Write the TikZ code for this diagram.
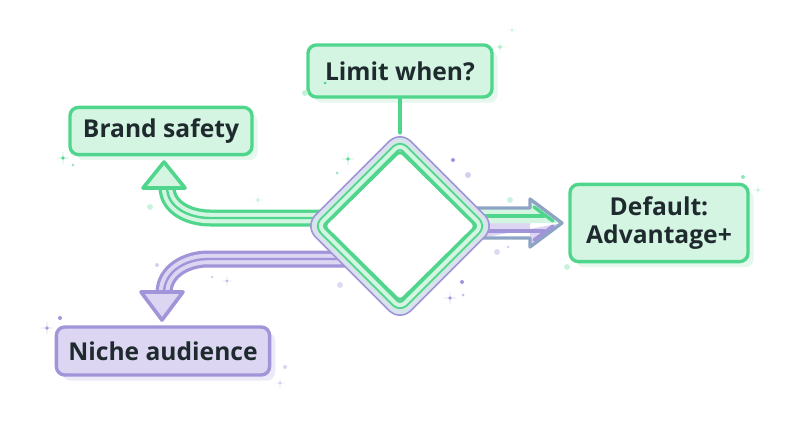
\documentclass[tikz,border=0pt]{standalone}
\usepackage{fontspec}
\setsansfont{Open Sans}
\usetikzlibrary{positioning, calc, shadows}

\definecolor{grnline}{HTML}{4FD68C}
\definecolor{grnfill}{HTML}{D3F5E2}
\definecolor{grnshade}{HTML}{E6F8EE}
\definecolor{purline}{HTML}{A194D8}
\definecolor{purfill}{HTML}{DCD6F3}
\definecolor{purshade}{HTML}{ECE9F8}
\definecolor{inkdark}{HTML}{1F2A2E}

\tikzset{
  labelbox/.style={rounded corners=6pt, line width=2.4pt, align=center,
    font=\sffamily\bfseries\fontsize{17.5}{20}\selectfont, text=inkdark, inner sep=0pt},
  greenbox/.style={labelbox, draw=grnline, fill=grnfill,
    drop shadow={fill=grnshade, opacity=1, shadow xshift=4pt, shadow yshift=-4pt}},
  purplebox/.style={labelbox, draw=purline, fill=purfill,
    drop shadow={fill=purshade, opacity=1, shadow xshift=4pt, shadow yshift=-4pt}},
}

\begin{document}
\begin{tikzpicture}[x=0.025cm, y=-0.025cm, line join=round, line cap=round]
  \useasboundingbox (0,0) rectangle (800,420);

  % boxes
  \node[greenbox, minimum width=4.6cm, minimum height=1.3cm] (limit) at (400,71) {Limit when?};
  \node[greenbox, minimum width=4.55cm, minimum height=1.18cm] (brand) at (161,131) {Brand safety};
  \node[greenbox, minimum width=4.45cm, minimum height=1.93cm] (default) at (659,223) {Default:\\Advantage+};
  \node[purplebox, minimum width=5.33cm, minimum height=1.2cm] (niche) at (163,351) {Niche audience};

  % diamond corners and arrow ends
  \coordinate (dC) at (400,226);
  \coordinate (dT) at (400,133);
  \coordinate (gstart) at (330,218);
  \coordinate (gtip) at (164,162);
  \coordinate (pstart) at (345,259);
  \coordinate (ptip) at (162,320);
  \coordinate (rtip) at (562,223);

  % question line
  \draw[grnline, line width=2.2pt] (limit.south) -- (dT);

  % green way out, up to brand safety
  \foreach \w/\c in {17/grnline, 10.5/grnfill, 2.4/grnline}
    \draw[\c, line width=\w*0.711pt, line cap=butt] (gstart) -- (210,218) to[out=180, in=-90] ($(gtip)+(3,25)$);
  \filldraw[fill=grnfill, draw=grnline, line width=2.6pt] (gtip) -- ++(21,26) -- ++(-42,0) -- cycle;

  % purple way out, down to niche audience
  \foreach \w/\c in {17/purline, 10.5/purfill, 2.4/purline}
    \draw[\c, line width=\w*0.711pt, line cap=butt] (pstart) -- (208,259) to[out=180, in=90] ($(ptip)+(2,-27)$);
  \filldraw[fill=purfill, draw=purline, line width=2.6pt] (ptip) -- ++(21,-28) -- ++(-42,0) -- cycle;

  % right way out, to default
  \fill[purfill] (470,223) -- (530,223) -- (530,247) -- (rtip) -- (470,240) -- cycle;
  \fill[grnfill] (470,223) -- (rtip) -- (530,199) -- (530,208) -- (470,208) -- cycle;
  \draw[purline!75!grnline, line width=2.4pt] (470,208) -- (530,208) -- (530,199) -- (rtip)
    -- (530,247) -- (530,238) -- (470,238);
  \draw[grnline, line width=2.4pt] (470,216) -- (544,216);
  \draw[grnline, line width=2.4pt] (534,207) -- (553,221);
  \draw[purline, line width=2.4pt] (470,231) -- (544,231);
  \draw[purline, line width=2.4pt] (534,240) -- (553,226);

  % diamond
  \draw[purline, line width=15*0.711pt, rounded corners=6pt]
    ($(dC)+(0,-86)$) -- ($(dC)+(86,0)$) -- ($(dC)+(0,86)$) -- ($(dC)+(-86,0)$) -- cycle;
  \draw[purfill!50!grnfill, line width=11.5*0.711pt, rounded corners=6pt]
    ($(dC)+(0,-86)$) -- ($(dC)+(86,0)$) -- ($(dC)+(0,86)$) -- ($(dC)+(-86,0)$) -- cycle;
  \draw[grnline, line width=8*0.711pt, rounded corners=5pt]
    ($(dC)+(0,-82)$) -- ($(dC)+(82,0)$) -- ($(dC)+(0,82)$) -- ($(dC)+(-82,0)$) -- cycle;
  \draw[grnfill, line width=4*0.711pt, rounded corners=5pt]
    ($(dC)+(0,-82)$) -- ($(dC)+(82,0)$) -- ($(dC)+(0,82)$) -- ($(dC)+(-82,0)$) -- cycle;
  \filldraw[fill=white, draw=grnline, line width=1.9pt, rounded corners=3pt]
    ($(dC)+(0,-75)$) -- ($(dC)+(76,0)$) -- ($(dC)+(0,75)$) -- ($(dC)+(-76,0)$) -- cycle;

  % sparkles
  \foreach \x/\y/\c/\s in {500/47/grnline!45/7, 63/158/grnline/6, 348/159/grnline/6,
      258/200/grnline!35/6, 450/298/purline/6, 47/328/purline/6, 227/281/purline!70/5,
      280/383/purline!45/6, 758/190/grnline!35/6, 512/30/grnline!30/5}
    \fill[\c] (\x,\y-\s) .. controls (\x,\y) .. (\x+\s,\y) .. controls (\x,\y) .. (\x,\y+\s)
      .. controls (\x,\y) .. (\x-\s,\y) .. controls (\x,\y) .. cycle;
  \foreach \x/\y/\c/\r in {305/93/grnline!35/3, 325/83/grnline/1.5, 453/160/purline/2,
      468/175/purline!45/3, 510/200/grnline!30/3, 497/252/purline!35/3, 508/247/purline!45/1.5,
      340/285/purline!35/3, 462/282/purline/2, 463/295/purline!60/1.5, 337/173/grnline!60/1.5,
      157/265/purline!45/2, 212/277/purline!45/1.5, 60/318/purline/2, 285/367/purline!40/2,
      743/177/grnline!60/2, 567/267/grnline!30/3, 73/165/grnline!60/1.5, 150/207/grnline!30/3}
    \fill[\c] (\x,\y) circle[radius=\r];
\end{tikzpicture}
\end{document}
